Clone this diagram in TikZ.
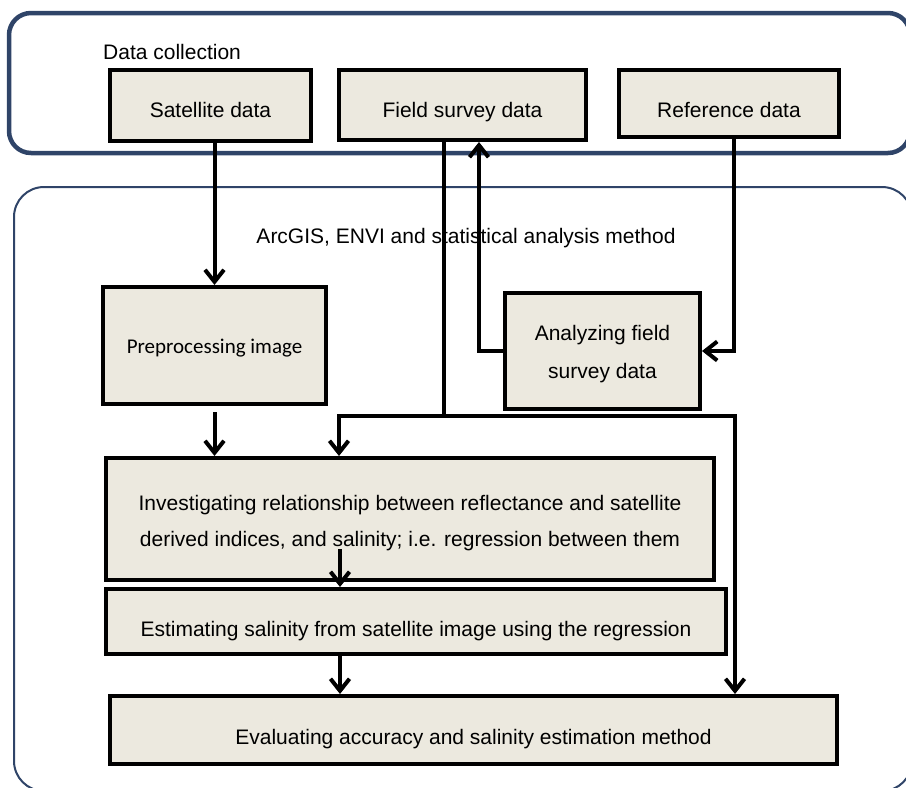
\documentclass[tikz,border=0pt]{standalone}
\usepackage{fontspec}
\setmainfont{Liberation Sans}
\newfontfamily\calib{Carlito}
\usetikzlibrary{arrows.meta}
\definecolor{boxfill}{RGB}{236,233,223}
\definecolor{frameblue}{RGB}{47,68,104}
\newcommand\boxtxt[2]{\raisebox{-#1}[0pt][0pt]{\begin{tabular}{@{}c@{}}#2\end{tabular}}}
\begin{document}
\begin{tikzpicture}[x=1pt,y=-1pt,
  stepbox/.style={draw=black,line width=4pt,fill=boxfill,inner sep=0pt,align=center,
    font=\fontsize{21}{38}\selectfont},
  conn/.style={line width=4pt,line join=miter},
  arr/.style={conn,-{Straight Barb[length=12pt,width=19pt]}},
  txt/.style={font=\fontsize{21}{25}\selectfont,inner sep=0pt}]
\useasboundingbox (0,0) rectangle (906,788);
% frames
\begin{scope}
\clip (0,0) rectangle (906,788);
\draw[frameblue,line width=4.5pt,rounded corners=22pt] (9,13) rectangle (910,153);
\draw[frameblue,line width=2pt,rounded corners=30pt] (14,187) rectangle (912,791);
\end{scope}
% texts
\node[txt,anchor=west] (dc) at (103,52) {Data collection};
\node[txt] (arc) at (466,238) {ArcGIS, ENVI and statistical analysis method};
% boxes
\node[stepbox,minimum width=201pt,minimum height=71pt] (sat) at (210.5,105.5) {\boxtxt{10pt}{Satellite data}};
\node[stepbox,minimum width=247pt,minimum height=70pt] (field) at (462.5,105) {\boxtxt{10pt}{Field survey data}};
\node[stepbox,minimum width=220pt,minimum height=67pt] (ref) at (729,103.5) {\boxtxt{12pt}{Reference data}};
\node[stepbox,minimum width=223pt,minimum height=117pt,font=\calib\fontsize{21}{25}\selectfont] (prep) at (214.5,345.5) {\boxtxt{8pt}{Preprocessing image}};
\node[stepbox,minimum width=195pt,minimum height=116pt] (anal) at (602.5,351) {\boxtxt{6pt}{Analyzing field\\survey data}};
\node[stepbox,minimum width=608pt,minimum height=122pt,font=\fontsize{21}{36}\selectfont] (inv) at (410,519) {\boxtxt{7pt}{Investigating relationship between reflectance and satellite\\derived indices, and salinity; i.e. regression between them}};
\node[stepbox,minimum width=620pt,minimum height=65pt] (est) at (416,621.5) {\boxtxt{13pt}{Estimating salinity from satellite image using the regression}};
\node[stepbox,minimum width=727pt,minimum height=68pt] (eval) at (473.5,730) {\boxtxt{12pt}{Evaluating accuracy and salinity estimation method}};
% junction coordinates
\coordinate (j1) at (444,416);
\coordinate (jl) at (339,416);
\coordinate (jr) at (735,416);
\coordinate (c1) at (479,351);
\coordinate (c2) at (734,351);
\coordinate (c3) at (340,549);
% connectors
\draw[arr] (sat.south -| prep) -- (prep.north);
\draw[conn] (field.south -| j1) -- (j1);
\draw[arr] (j1) -- (jl) -- (jl |- inv.north);
\draw[arr] (j1) -- (jr) -- (jr |- eval.north);
\draw[arr] (anal.west) -- (c1) -- (field.south -| c1);
\draw[arr] (ref.south -| c2) -- (c2) -- (anal.east);
\draw[arr,shorten <=6pt] (prep.south) -- (prep.south |- inv.north);
\draw[arr] (c3) -- (est.north -| c3);
\draw[arr] (est.south -| c3) -- (eval.north -| c3);
\end{tikzpicture}
\end{document}
